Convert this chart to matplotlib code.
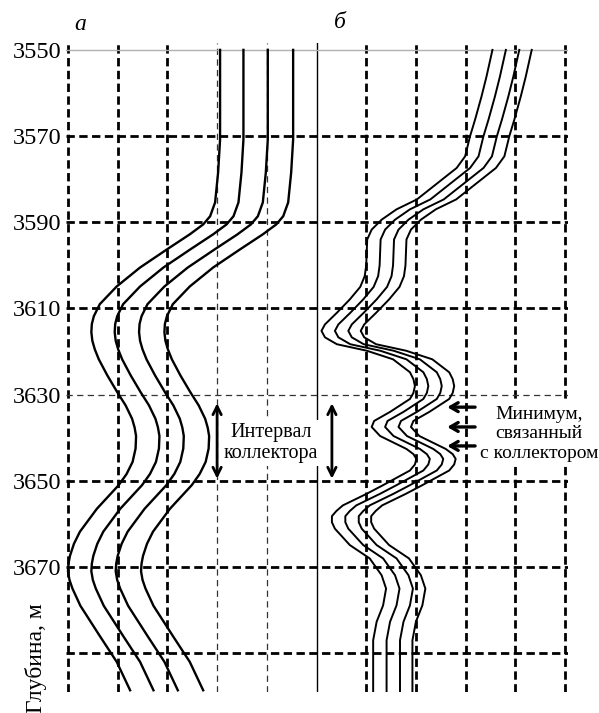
import matplotlib
matplotlib.use('Agg')
import matplotlib.pyplot as plt

# глубины горизонтальных линий сетки, м
grid_depths = [3550, 3570, 3590, 3610, 3630, 3650, 3670, 3690]
label_depths = [3550, 3570, 3590, 3610, 3630, 3650, 3670]
# вертикальные линии сетки (в клетках)
grid_cols = [0, 1, 2, 3, 4, 5, 6, 7, 8, 9, 10]

# панель а: левая кривая, остальные сдвинуты вправо
depth_a = [3550, 3570.8, 3578.5, 3585.4, 3588.6, 3590.5, 3592.8, 3596.3, 3600.5,
           3604.9, 3609.0, 3611.8, 3613.6, 3615.5, 3617.5, 3619.5, 3621.8, 3625.5,
           3629.4, 3632.5, 3635.6, 3637.6, 3639.6, 3642.5, 3645.6, 3648.4, 3651.0,
           3656.5, 3661.8, 3664.6, 3667.4, 3669.2, 3671.0, 3673.0, 3675.0, 3679.0,
           3686.0, 3692.0, 3698.6]
x_a = [3.06, 3.06, 3.02, 2.96, 2.86, 2.72, 2.45, 1.99, 1.45,
       0.98, 0.64, 0.52, 0.48, 0.47, 0.49, 0.54, 0.62, 0.79,
       0.99, 1.16, 1.29, 1.34, 1.37, 1.36, 1.30, 1.18, 1.02,
       0.58, 0.24, 0.12, 0.04, 0.01, 0.0, 0.03, 0.09, 0.25,
       0.64, 0.98, 1.25]
shift_a = [0, 0.47, 0.96, 1.47]

# панель б: левая кривая, остальные сдвинуты вправо
depth_b = [3550, 3556.2, 3560.8, 3566.2, 3570.0, 3574.7, 3577.4, 3580.5, 3584.7,
           3587.0, 3589.4, 3591.7, 3594.0, 3597.0, 3600.0, 3602.5, 3605.0, 3607.9,
           3611.0, 3613.7, 3615.2, 3616.7, 3618.3, 3619.8, 3621.8, 3624.8, 3626.4,
           3628.0, 3629.6, 3631.0, 3634.0, 3636.1, 3637.5, 3639.6, 3642.6, 3643.8,
           3644.9, 3646.2, 3647.6, 3651.0, 3653.0, 3655.7, 3657.0, 3658.2, 3659.6,
           3661.1, 3664.9, 3668.0, 3671.9, 3675.0, 3678.9, 3682.7, 3687.0, 3699.0]
x_b = [8.54, 8.42, 8.32, 8.19, 8.09, 7.99, 7.82, 7.48, 7.02,
       6.61, 6.31, 6.11, 6.02, 6.01, 6.00, 5.97, 5.88, 5.67,
       5.41, 5.17, 5.10, 5.17, 5.41, 6.01, 6.54, 6.88, 6.95,
       6.98, 6.95, 6.88, 6.48, 6.16, 6.11, 6.28, 6.81, 6.95,
       7.01, 6.98, 6.88, 6.34, 6.01, 5.53, 5.40, 5.31, 5.31,
       5.37, 5.67, 6.07, 6.31, 6.40, 6.34, 6.21, 6.14, 6.14]
shift_b = [0, 0.27, 0.54, 0.79]

# интервал коллектора (двойные стрелки)
interval_top = 3632.0
interval_bottom = 3649.5
# минимумы, связанные с коллектором
minima_depths = [3632.9, 3637.5, 3641.9]

thick = dict(color='black', lw=2.0, dashes=(3.0, 1.6))
thin = dict(color='#333333', lw=0.9, dashes=(5, 3.5))
col_style = [thick, thick, thick, thin, thin, None, thick, thick, thick, thick, thick]
row_style = [None, thick, thick, thick, thin, thick, thick, thick]

plt.rcParams['font.family'] = ['Liberation Serif', 'DejaVu Serif']

fig = plt.figure(figsize=(5.99, 7.13), dpi=100)
ax = fig.add_axes([65.5 / 599, 21 / 713, 502 / 599, 649 / 713])
ax.set_xlim(-0.05, 10.05)
ax.set_ylim(3699, 3548.4)

for c, st in zip(grid_cols, col_style):
    if st is None:
        ax.axvline(c, color='black', lw=1.0, zorder=1)
    else:
        ax.axvline(c, zorder=1, **st)
for d, st in zip(grid_depths, row_style):
    if st is None:
        ax.axhline(d, color='#b0b0b0', lw=1.0, zorder=1)
    else:
        ax.axhline(d, zorder=1, **st)

for s in shift_a:
    ax.plot([x + s for x in x_a], depth_a, color='black', lw=1.7, zorder=3,
            solid_joinstyle='round')
for s in shift_b:
    ax.plot([x + s for x in x_b], depth_b, color='black', lw=1.4, zorder=3,
            solid_joinstyle='round')

# стрелки интервала коллектора
for xc in [3.0, 5.31]:
    ax.annotate('', xy=(xc, interval_top), xytext=(xc, interval_bottom),
                arrowprops=dict(arrowstyle='<->,head_length=0.6,head_width=0.3',
                                lw=2.0, color='black', shrinkA=0, shrinkB=0),
                zorder=5)
for d in minima_depths:
    ax.annotate('', xy=(7.63, d), xytext=(8.19, d),
                arrowprops=dict(arrowstyle='->,head_length=0.55,head_width=0.32',
                                lw=2.4, color='black', shrinkA=0, shrinkB=0),
                zorder=5)

ax.text(4.08, 3641.2, 'Интервал\nколлектора', ha='center', va='center',
        fontsize=14.5, linespacing=1.15, zorder=4,
        bbox=dict(facecolor='white', edgecolor='none', pad=2))
ax.text(9.48, 3639.1, 'Минимум,\nсвязанный\nс коллектором', ha='center', va='center',
        fontsize=14, linespacing=1.2, zorder=4,
        bbox=dict(facecolor='white', edgecolor='none', pad=2))

ax.set_xticks([])
ax.set_yticks(label_depths)
ax.set_yticklabels([str(d) for d in label_depths], fontsize=17.5)
ax.tick_params(axis='y', length=0, pad=3)
for sp in ax.spines.values():
    sp.set_visible(False)

fig.text(80 / 599, 1 - 25 / 713, 'а', fontsize=17, style='italic', ha='center', va='center')
fig.text(340 / 599, 1 - 22 / 713, 'б', fontsize=17, style='italic', ha='center', va='center')
fig.text(36 / 599, 1 - 658 / 713, 'Глубина, м', fontsize=17, rotation=90,
         ha='center', va='center')

fig.savefig('out.png', dpi=100)
